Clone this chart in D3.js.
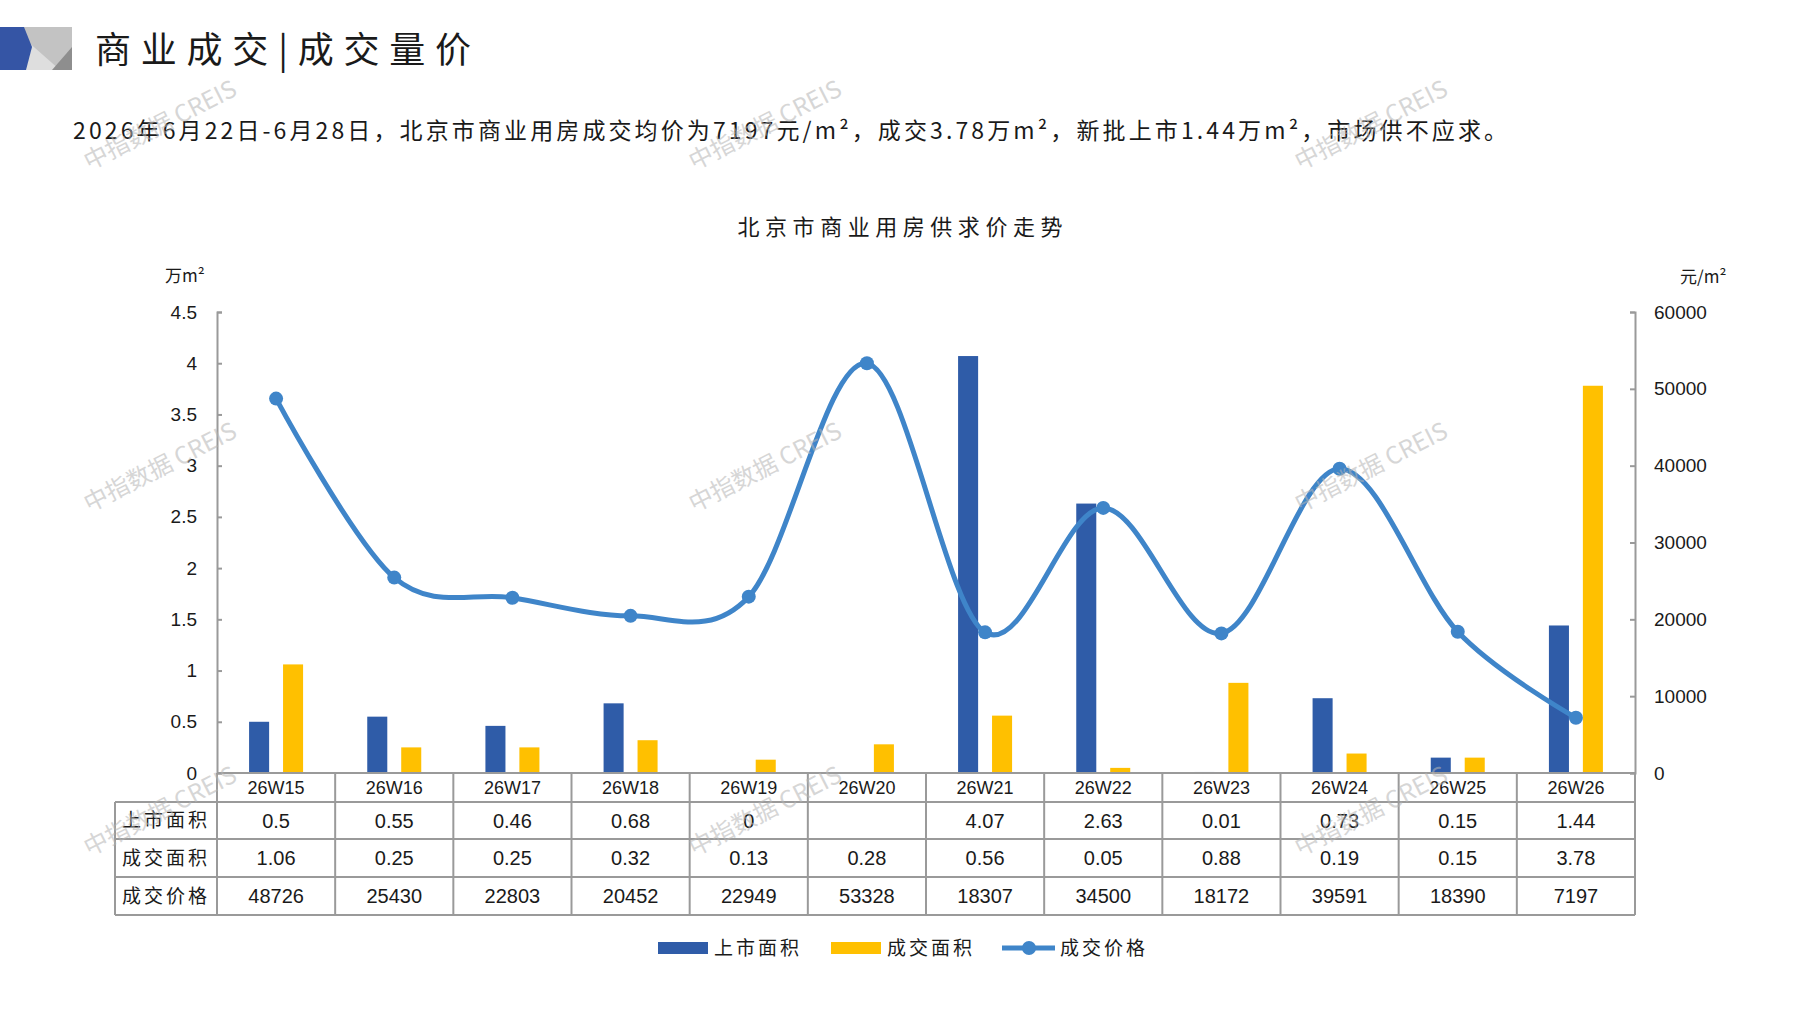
<!DOCTYPE html>
<html>
<head>
<meta charset="utf-8">
<script src="https://cdn.jsdelivr.net/npm/d3@7"></script>
<style>
  body { margin: 0; background: #fff; }
  text { font-family: "Noto Sans CJK SC", "Liberation Sans", sans-serif; fill: #1a1a1a; }
  .num { font-family: "Liberation Sans", Arial, sans-serif; }
</style>
</head>
<body>
<div id="chart"></div>
<script>
// weekly data, Beijing commercial property
const weeks = ["26W15", "26W16", "26W17", "26W18", "26W19", "26W20", "26W21", "26W22", "26W23", "26W24", "26W25", "26W26"];
const listedArea = [0.5, 0.55, 0.46, 0.68, 0, null, 4.07, 2.63, 0.01, 0.73, 0.15, 1.44];
const dealArea = [1.06, 0.25, 0.25, 0.32, 0.13, 0.28, 0.56, 0.05, 0.88, 0.19, 0.15, 3.78];
const dealPrice = [48726, 25430, 22803, 20452, 22949, 53328, 18307, 34500, 18172, 39591, 18390, 7197];
const leftTicks = [0, 0.5, 1, 1.5, 2, 2.5, 3, 3.5, 4, 4.5];
const rightTicks = [0, 10000, 20000, 30000, 40000, 50000, 60000];
const seriesNames = ["上市面积", "成交面积", "成交价格"];

const colors = { listed: "#2f5ca8", deal: "#ffc000", price: "#3f85c9", grid: "#9a9a9a" };

const W = 1797, H = 1010;
const plot = { left: 217, right: 1635, top: 312, bottom: 773 };

const svg = d3.select("#chart").append("svg").attr("width", W).attr("height", H);

// ---- page header ----
const logo = svg.append("g");
logo.append("rect").attr("x", 0).attr("y", 27).attr("width", 72).attr("height", 43).attr("fill", "#c3c3c3");
logo.append("polygon").attr("points", "26,40 26,70 60,70").attr("fill", "#dedede");
logo.append("polygon").attr("points", "52,70 72,47 72,70").attr("fill", "#8e8e8e");
logo.append("polygon").attr("points", "0,27 24,27 32,47 26,70 0,70").attr("fill", "#3555a5");

svg.append("text")
  .attr("x", 95).attr("y", 63)
  .attr("textLength", 376).attr("lengthAdjust", "spacing")
  .style("font-size", "36px")
  .text("商业成交|成交量价");

svg.append("text")
  .attr("x", 73).attr("y", 139)
  .attr("textLength", 1434).attr("lengthAdjust", "spacing")
  .style("font-size", "23px")
  .text("2026年6月22日-6月28日，北京市商业用房成交均价为7197元/m²，成交3.78万m²，新批上市1.44万m²，市场供不应求。");

// chart title
svg.append("text")
  .attr("x", 900).attr("y", 235)
  .attr("text-anchor", "middle")
  .attr("textLength", 325).attr("lengthAdjust", "spacing")
  .style("font-size", "22px")
  .text("北京市商业用房供求价走势");

// ---- scales ----
const x = d3.scaleBand().domain(weeks).range([plot.left, plot.right]).padding(0);
const xSub = d3.scaleBand().domain(["listed", "deal"])
  .range([x.bandwidth() / 2 - 27, x.bandwidth() / 2 + 27]).paddingInner(0.41);
const yL = d3.scaleLinear().domain([0, 4.5]).range([plot.bottom, plot.top]);
const yR = d3.scaleLinear().domain([0, 60000]).range([plot.bottom, plot.top]);

// ---- axes ----
const axisL = d3.axisLeft(yL).tickValues(leftTicks).tickFormat(d => String(d))
  .tickSizeInner(-5).tickSizeOuter(-5).tickPadding(20);
const axisR = d3.axisRight(yR).tickValues(rightTicks).tickFormat(d => String(d))
  .tickSizeInner(-5).tickSizeOuter(-5).tickPadding(19);

const gL = svg.append("g").attr("transform", `translate(${plot.left},0)`).call(axisL);
const gR = svg.append("g").attr("transform", `translate(${plot.right},0)`).call(axisR);
[gL, gR].forEach(g => {
  g.select(".domain").attr("stroke", colors.grid).attr("stroke-width", 2);
  g.selectAll(".tick line").attr("stroke", colors.grid).attr("stroke-width", 2);
  g.selectAll(".tick text").attr("class", "num").style("font-size", "19px").attr("fill", "#1a1a1a");
});

// unit labels
svg.append("text").attr("x", 165).attr("y", 282).style("font-size", "17px").text("万m²");
svg.append("text").attr("x", 1680).attr("y", 283).style("font-size", "17px").text("元/m²");

// ---- bars ----
const bars = svg.append("g");
bars.selectAll(".listed")
  .data(weeks.map((w, i) => ({ w, v: listedArea[i] })).filter(d => d.v != null))
  .join("rect")
  .attr("x", d => x(d.w) + xSub("listed"))
  .attr("width", xSub.bandwidth())
  .attr("y", d => yL(d.v))
  .attr("height", d => yL(0) - yL(d.v))
  .attr("fill", colors.listed);

bars.selectAll(".deal")
  .data(weeks.map((w, i) => ({ w, v: dealArea[i] })))
  .join("rect")
  .attr("x", d => x(d.w) + xSub("deal"))
  .attr("width", xSub.bandwidth())
  .attr("y", d => yL(d.v))
  .attr("height", d => yL(0) - yL(d.v))
  .attr("fill", colors.deal);

// ---- price line (smoothed) ----
const pricePts = weeks.map((w, i) => ({ w, v: dealPrice[i] }));
const line = d3.line()
  .x(d => x(d.w) + x.bandwidth() / 2)
  .y(d => yR(d.v))
  .curve(d3.curveCardinal.tension(0));

svg.append("path").datum(pricePts)
  .attr("fill", "none")
  .attr("stroke", colors.price)
  .attr("stroke-width", 5)
  .attr("d", line);

svg.append("g").selectAll("circle")
  .data(pricePts)
  .join("circle")
  .attr("cx", d => x(d.w) + x.bandwidth() / 2)
  .attr("cy", d => yR(d.v))
  .attr("r", 7)
  .attr("fill", colors.price);

// ---- data table under the axis ----
const rowEdges = [plot.bottom, 802, 839, 877, 915];
const labelLeft = 115;
const table = svg.append("g");
const gridLine = sel => sel.attr("stroke", colors.grid).attr("stroke-width", 2);

// horizontal lines
table.append("line").attr("x1", plot.left).attr("x2", plot.right)
  .attr("y1", rowEdges[0]).attr("y2", rowEdges[0]).call(gridLine);
rowEdges.slice(1).forEach(y => {
  table.append("line").attr("x1", labelLeft).attr("x2", plot.right)
    .attr("y1", y).attr("y2", y).call(gridLine);
});
// vertical lines
table.append("line").attr("x1", labelLeft).attr("x2", labelLeft)
  .attr("y1", rowEdges[1]).attr("y2", rowEdges[4]).call(gridLine);
weeks.concat([null]).forEach((w, i) => {
  const xx = w ? x(w) : plot.right;
  table.append("line").attr("x1", xx).attr("x2", xx)
    .attr("y1", rowEdges[0]).attr("y2", rowEdges[4]).call(gridLine);
});

const rowMid = i => (rowEdges[i] + rowEdges[i + 1]) / 2;

// header row: week names
table.selectAll(".wk").data(weeks).join("text")
  .attr("class", "num")
  .attr("x", d => x(d) + x.bandwidth() / 2)
  .attr("y", rowMid(0))
  .attr("dy", "0.36em")
  .attr("text-anchor", "middle")
  .style("font-size", "18px")
  .text(d => d);

const rows = [listedArea, dealArea, dealPrice];
rows.forEach((vals, r) => {
  table.append("text")
    .attr("x", (labelLeft + plot.left) / 2)
    .attr("y", rowMid(r + 1))
    .attr("dy", "0.36em")
    .attr("text-anchor", "middle")
    .style("font-size", "19px")
    .style("letter-spacing", "3px")
    .text(seriesNames[r]);

  table.selectAll(".r" + r).data(weeks).join("text")
    .attr("class", "num")
    .attr("x", d => x(d) + x.bandwidth() / 2)
    .attr("y", rowMid(r + 1))
    .attr("dy", "0.36em")
    .attr("text-anchor", "middle")
    .style("font-size", "20px")
    .text((d, i) => vals[i] == null ? "" : String(vals[i]));
});

// ---- legend ----
const legY = 948;
const legend = svg.append("g");
legend.append("rect").attr("x", 658).attr("y", legY - 6).attr("width", 50).attr("height", 12).attr("fill", colors.listed);
legend.append("rect").attr("x", 831).attr("y", legY - 6).attr("width", 50).attr("height", 12).attr("fill", colors.deal);
legend.append("line").attr("x1", 1002).attr("x2", 1055).attr("y1", legY).attr("y2", legY)
  .attr("stroke", colors.price).attr("stroke-width", 5);
legend.append("circle").attr("cx", 1029).attr("cy", legY).attr("r", 7).attr("fill", colors.price);
[[714, 0], [887, 1], [1060, 2]].forEach(([lx, k]) => {
  legend.append("text").attr("x", lx).attr("y", legY).attr("dy", "0.36em")
    .style("font-size", "19px").style("letter-spacing", "3px")
    .text(seriesNames[k]);
});

// ---- watermarks ----
const wmX = [160, 765, 1371];
const wmY = [125, 467, 811];
const wm = svg.append("g").attr("pointer-events", "none");
wmY.forEach(wy => wmX.forEach(wx => {
  wm.append("text")
    .attr("transform", `translate(${wx},${wy}) rotate(-27)`)
    .attr("text-anchor", "middle")
    .attr("dy", "0.35em")
    .style("font-size", "24px")
    .style("fill", "#b5b5b5")
    .style("opacity", 0.55)
    .text("中指数据 CREIS");
}));
</script>
</body>
</html>
